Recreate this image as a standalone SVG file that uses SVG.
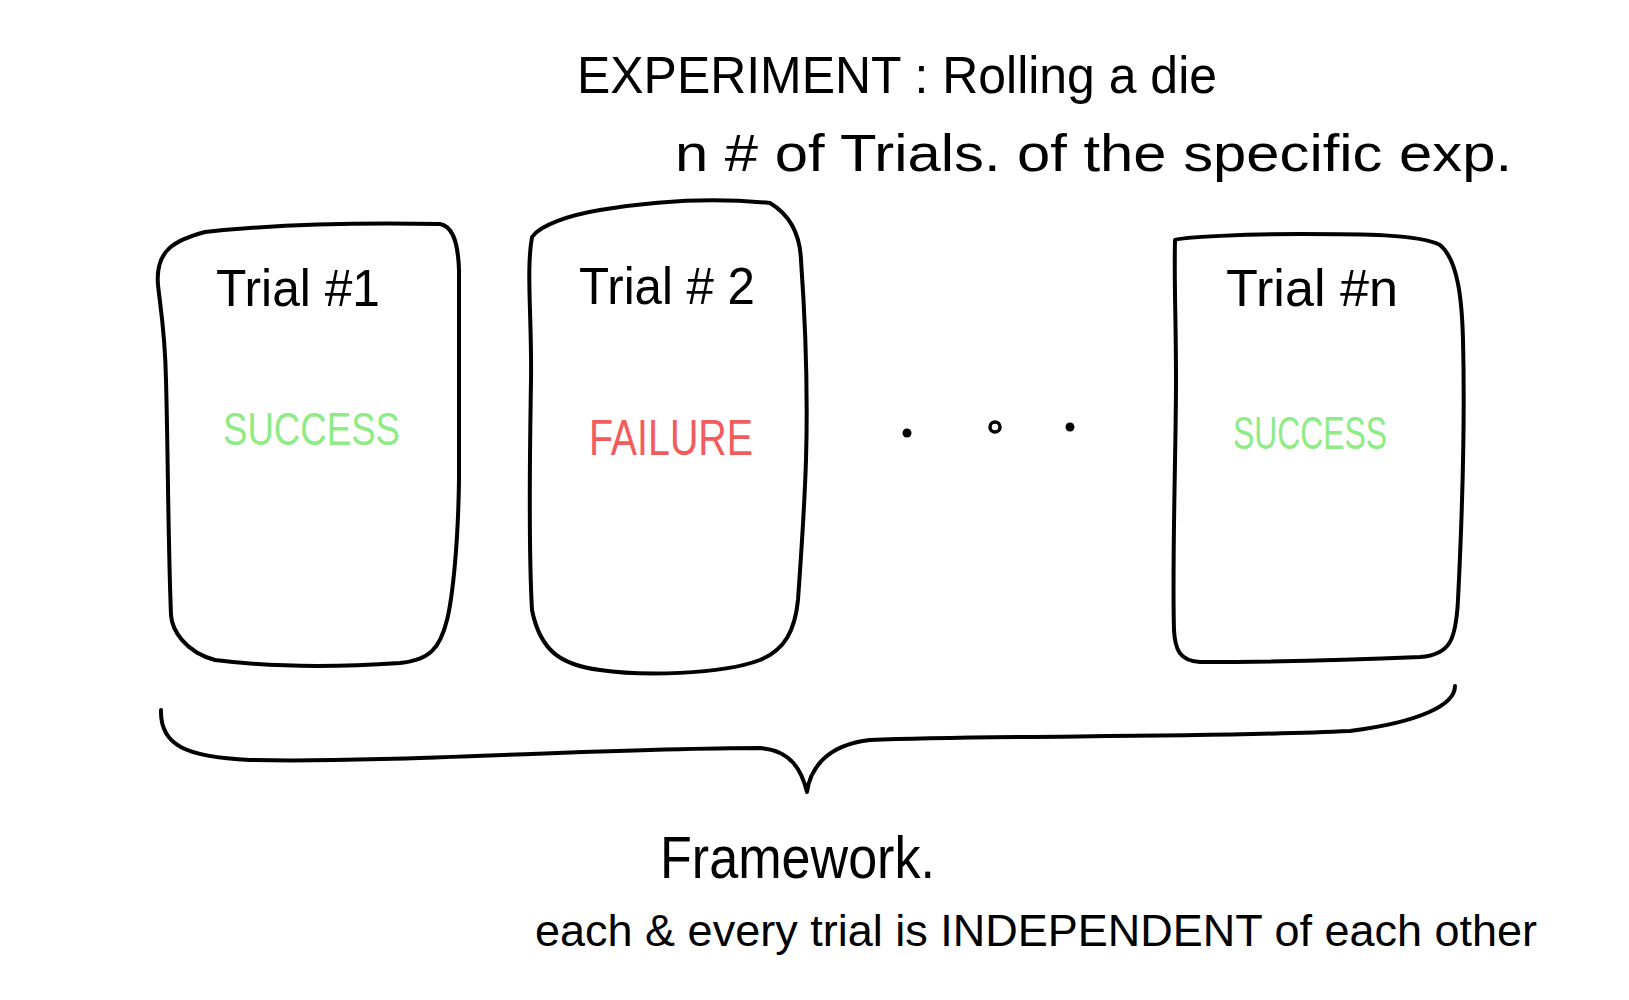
<svg xmlns="http://www.w3.org/2000/svg" width="1629" height="1000" viewBox="0 0 1629 1000">
<style>
.hand{font-family:"Liberation Sans","DejaVu Sans",sans-serif;fill:#000}
.box{fill:none;stroke:#000;stroke-width:4;stroke-linejoin:round;stroke-linecap:round}
.brace{fill:none;stroke:#000;stroke-width:4;stroke-linecap:round;stroke-linejoin:round}
.ok{font-family:"Liberation Sans","DejaVu Sans",sans-serif;fill:#8EEB86}
.bad{font-family:"Liberation Sans","DejaVu Sans",sans-serif;fill:#F25C5C}
</style>
<rect width="1629" height="1000" fill="#fff"/>
<g id="title">
<text class="hand" x="577" y="93" font-size="52" textLength="640" lengthAdjust="spacingAndGlyphs">EXPERIMENT : Rolling a die</text>
<text class="hand" x="675" y="171" font-size="52" textLength="837" lengthAdjust="spacingAndGlyphs">n # of Trials. of the specific exp.</text>
</g>
<g id="trial1">
<path class="box" d="M158,285 C155,250 175,240 205,232 C260,226 330,222 440,224 C452,226 458,240 459,270 L459,480 C458,550 452,600 447,620 C440,648 430,660 400,663 C340,667 270,667 215,660 C185,652 172,630 171,615 C168,540 168,450 166,380 C165,330 160,305 158,285 Z"/>
<text class="hand" x="216" y="306" font-size="52" textLength="164" lengthAdjust="spacingAndGlyphs">Trial #1</text>
<text class="ok" x="223" y="445" font-size="46" textLength="177" lengthAdjust="spacingAndGlyphs">SUCCESS</text>
</g>
<g id="trial2">
<path class="box" d="M532,237 C540,225 570,215 600,210 C660,200 720,198 770,203 C790,215 800,235 801,260 C806,330 808,390 806,460 C804,520 800,570 798,600 C795,630 785,650 760,660 C720,675 640,676 600,670 C560,665 540,650 532,610 C528,540 530,450 531,380 C532,320 526,270 532,237 Z"/>
<text class="hand" x="579" y="304" font-size="52" textLength="176" lengthAdjust="spacingAndGlyphs">Trial # 2</text>
<text class="bad" x="589" y="455" font-size="50" textLength="164" lengthAdjust="spacingAndGlyphs">FAILURE</text>
</g>
<g id="ellipsis">
<circle cx="907" cy="433" r="4.5" fill="#000"/>
<circle cx="995" cy="427" r="5" fill="none" stroke="#000" stroke-width="3.5"/>
<circle cx="1070" cy="427" r="4.5" fill="#000"/>
</g>
<g id="trialn">
<path class="box" d="M1175,240 C1180,237 1250,234 1300,234 C1360,234 1420,234 1440,245 C1458,260 1462,300 1463,340 C1465,420 1462,520 1458,600 C1456,640 1450,655 1420,657 C1350,660 1250,662 1200,662 C1180,661 1175,650 1174,630 C1172,560 1176,450 1176,380 C1176,320 1174,280 1175,240 Z"/>
<text class="hand" x="1226" y="306" font-size="52" textLength="172" lengthAdjust="spacingAndGlyphs">Trial #n</text>
<text class="ok" x="1233" y="449" font-size="46" textLength="154" lengthAdjust="spacingAndGlyphs">SUCCESS</text>
</g>
<g id="connectors">
<path class="brace" d="M161,710 C160,745 185,757 250,760 C400,763 600,748 760,748 C792,750 802,772 807,792 C810,770 825,745 870,740 C1000,735 1200,738 1350,731 C1420,722 1455,705 1455,686"/>
</g>
<g id="framework">
<text class="hand" x="660" y="878" font-size="60" textLength="275" lengthAdjust="spacingAndGlyphs">Framework.</text>
<text class="hand" x="535" y="946" font-size="45">each &amp; every trial is INDEPENDENT of each other</text>
</g>
</svg>
